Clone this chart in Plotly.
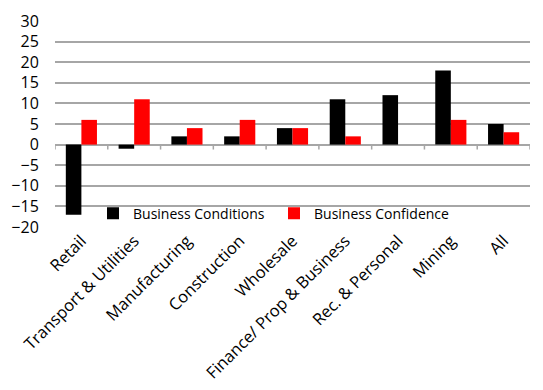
import plotly.graph_objects as go

categories = ["Retail", "Transport & Utilities", "Manufacturing", "Construction", "Wholesale",
              "Finance/ Prop & Business", "Rec. & Personal", "Mining", "All"]
conditions = [-17, -1, 2, 2, 4, 11, 12, 18, 5]
confidence = [6, 11, 4, 6, 4, 2, 0, 6, 3]
y_ticks = [-20, -15, -10, -5, 0, 5, 10, 15, 20, 25, 30]

FONT = "Open Sans"
GRID = "#a6a6a6"
fig = go.Figure()
fig.add_trace(go.Bar(x=categories, y=conditions, name="Business Conditions",
                     marker=dict(color="#000000", line=dict(width=0))))
fig.add_trace(go.Bar(x=categories, y=confidence, name="Business Confidence",
                     marker=dict(color="#ff0000", line=dict(width=0))))

# small tick marks on the zero line at category boundaries
for i in range(len(categories) + 1):
    fig.add_shape(type="line", xref="x", yref="y", x0=i - 0.5, x1=i - 0.5, y0=0, y1=-1.2,
                  line=dict(color=GRID, width=1.5), layer="below")

# page body has an 8px default margin, so the figure is sized 8px smaller
fig.update_layout(
    width=535, height=382,
    margin=dict(l=47, r=13, t=13, b=163, autoexpand=False),
    paper_bgcolor="white", plot_bgcolor="white",
    barmode="group", bargap=0.41, bargroupgap=0,
    font=dict(family=FONT, color="#000000"),
    showlegend=True,
    legend=dict(orientation="h", x=0.08, y=0.065, xanchor="left", yanchor="middle",
                bgcolor="rgba(0,0,0,0)", font=dict(size=14, family=FONT),
                entrywidth=136, entrywidthmode="pixels", itemwidth=30,
                traceorder="normal"),
    xaxis=dict(type="category", categoryarray=categories, range=[-0.5, 8.5],
               tickangle=-45, tickfont=dict(size=16.5, family=FONT), automargin=False,
               showline=False, showgrid=False, ticks="", zeroline=False),
    yaxis=dict(range=[-20, 30], tickvals=y_ticks, showgrid=True, gridcolor=GRID,
               gridwidth=1.5, zeroline=True, zerolinecolor=GRID, zerolinewidth=1.5,
               showline=False, ticks="outside", ticklen=12, tickcolor="rgba(0,0,0,0)",
               automargin=False, tickfont=dict(size=16, family=FONT)),
)
fig.write_html("out.html")
